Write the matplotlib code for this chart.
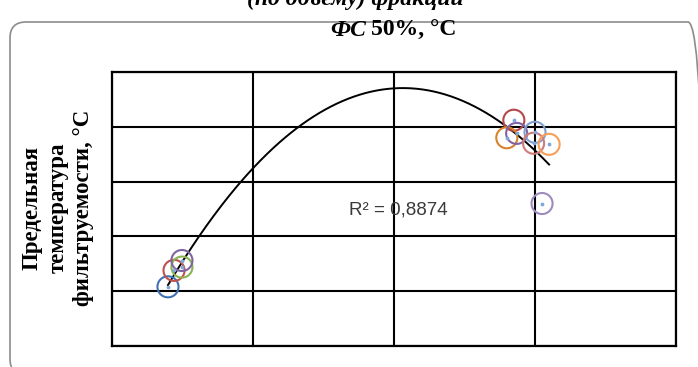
import numpy as np
import matplotlib
matplotlib.use('Agg')
import matplotlib.pyplot as plt
from matplotlib.patches import FancyBboxPatch
from matplotlib.transforms import IdentityTransform

# scatter points (fraction temperature vs CFPP)
x_vals = [3.97, 4.40, 4.96, 4.96, 28.5, 28.0, 28.7, 30.0, 29.9, 31.0, 30.5]
y_vals = [-19.6, -18.1, -17.8, -17.2, -4.4, -6.0, -5.6, -5.5, -6.5, -6.6, -12.0]
colors = ['#3F72B5', '#C0504D', '#8DB255', '#8064A2', '#B5474B', '#D9822B',
          '#8064A2', '#7F9FD0', '#D07A7A', '#F5A05A', '#9D8BBE']
r2_text = 'R² = 0,8874'

fig = plt.figure(figsize=(6.98, 3.67), dpi=100)
ax = fig.add_axes([112 / 698, 1 - 346 / 367, 564 / 698, 274 / 367])

# rounded chart-area frame (pixel coords, partly cut by the image edge)
frame = FancyBboxPatch((10, -8), 694, 353, boxstyle='round,pad=0,rounding_size=16',
                       transform=IdentityTransform(), fill=False,
                       edgecolor='#8C8C8C', linewidth=1.2, zorder=0)
fig.patches.append(frame)

ax.set_xlim(0, 40)
ax.set_ylim(-25, 0)
ax.set_xticks([0, 10, 20, 30, 40])
ax.set_yticks([-25, -20, -15, -10, -5, 0])
ax.tick_params(length=0, labelbottom=False, labelleft=False)
ax.grid(True, color='black', linewidth=1.5)
for s in ax.spines.values():
    s.set_linewidth(1.6)
    s.set_color('black')

# polynomial (2nd order) trend line over the data range
coef = np.polyfit(x_vals, y_vals, 2)
xs = np.linspace(min(x_vals), max(x_vals), 200)
ax.plot(xs, np.polyval(coef, xs), color='black', linewidth=1.4, zorder=3)

ax.scatter(x_vals, y_vals, s=230, facecolors='none', edgecolors=colors,
           linewidths=1.5, zorder=4, clip_on=False)
ax.scatter(x_vals, y_vals, s=3, color='#7FA7D9', zorder=5, clip_on=False)

ax.text(20.3, -12.6, r2_text, fontsize=13.5, family='Liberation Sans',
        color='#3A3A3A', ha='center', va='center', zorder=6)

fig.text(348 / 698, 1 - 30 / 367, 'ФС', fontsize=17, family='Liberation Serif',
         weight='bold', style='italic', ha='center', va='center')
fig.text(414 / 698, 1 - 30 / 367, '50%, °С', fontsize=17, family='Liberation Serif',
         weight='bold', ha='center', va='center')

fig.text(355 / 698, 1 - 5 / 367, '(по объему) фракции', fontsize=17,
         family='Liberation Serif', weight='bold', style='italic',
         ha='center', va='baseline')

fig.text(58 / 698, 1 - 208 / 367, 'Предельная\nтемпература\nфильтруемости, °С',
         fontsize=16.5, family='Liberation Serif', weight='bold', rotation=90,
         ha='center', va='center', multialignment='center', linespacing=1.3)

fig.savefig('out.png', dpi=100)
